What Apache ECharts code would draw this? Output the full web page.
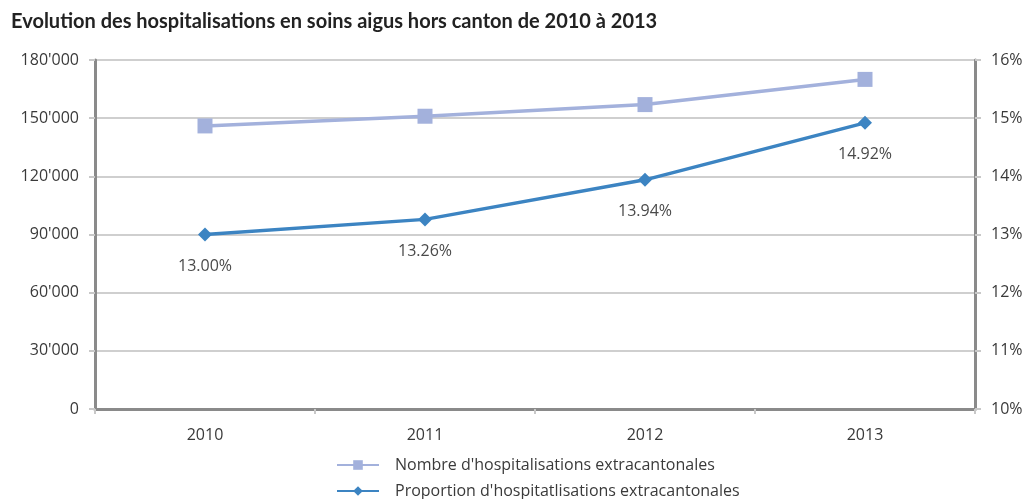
<!DOCTYPE html>
<html>
<head>
<meta charset="utf-8">
<script src="https://cdn.jsdelivr.net/npm/echarts@6/dist/echarts.min.js"></script>
<style>
  html, body { margin: 0; padding: 0; background: #fff; }
  #chart { width: 1030px; height: 499px; }
</style>
</head>
<body>
<div id="chart"></div>
<script>
// data
const years = ["2010", "2011", "2012", "2013"];
const nombre = [146000, 151000, 157000, 170000];
const proportion = [13.00, 13.26, 13.94, 14.92];
const seriesNames = ["Nombre d'hospitalisations extracantonales", "Proportion d'hospitatlisations extracantonales"];

const font = "'Open Sans', 'DejaVu Sans', sans-serif";
const textColor = "#3a3a3a";

function thousands(v) {
  return String(v).replace(/\B(?=(\d{3})+(?!\d))/g, "'");
}

// one legend per row, the second row is partly cut by the bottom edge like in the source
function legendRow(name, top) {
  return {
    left: 336,
    top: top,
    padding: 0,
    itemWidth: 42,
    itemHeight: 12,
    data: [name],
    textStyle: { fontFamily: font, fontSize: 16, color: textColor, padding: [0, 0, 0, 11] }
  };
}

const chart = echarts.init(document.getElementById("chart"));
const option = {
  animation: false,
  title: {
    text: "Evolution des hospitalisations en soins aigus hors canton de 2010 à 2013",
    left: 6,
    top: 7,
    textStyle: { fontFamily: "Lato, sans-serif", fontWeight: "bold", fontSize: 20, color: "#222" }
  },
  grid: { left: 95, right: 55, top: 60, bottom: 90, containLabel: false },
  legend: [legendRow(seriesNames[0], 457), legendRow(seriesNames[1], 483)],
  xAxis: {
    type: "category",
    data: years,
    boundaryGap: true,
    axisLine: { lineStyle: { color: "#8a8a8a", width: 3 } },
    axisTick: { show: true, length: 5, lineStyle: { color: "#c8c8c8", width: 2 } },
    axisLabel: { fontFamily: font, fontSize: 16, color: textColor, margin: 18 }
  },
  yAxis: [
    {
      type: "value",
      min: 0,
      max: 180000,
      interval: 30000,
      axisLine: { show: true, lineStyle: { color: "#8a8a8a", width: 3 } },
      axisTick: { show: true, length: 6, lineStyle: { color: "#c8c8c8", width: 2 } },
      splitLine: { lineStyle: { color: "#cfcfcf", width: 2 } },
      axisLabel: { fontFamily: font, fontSize: 16, color: textColor, margin: 16, formatter: thousands }
    },
    {
      type: "value",
      min: 10,
      max: 16,
      interval: 1,
      position: "right",
      axisLine: { show: true, lineStyle: { color: "#8a8a8a", width: 3 } },
      axisTick: { show: true, length: 6, lineStyle: { color: "#c8c8c8", width: 2 } },
      splitLine: { show: false },
      axisLabel: { fontFamily: font, fontSize: 16, color: textColor, margin: 16, formatter: "{value}%" }
    }
  ],
  series: [
    {
      name: seriesNames[0],
      type: "line",
      yAxisIndex: 0,
      data: nombre,
      symbol: "rect",
      symbolSize: 15,
      lineStyle: { color: "#a3b1dc", width: 3.5 },
      itemStyle: { color: "#a3b1dc" }
    },
    {
      name: seriesNames[1],
      type: "line",
      yAxisIndex: 1,
      data: proportion,
      symbol: "diamond",
      symbolSize: 14,
      lineStyle: { color: "#3c84c2", width: 3.5 },
      itemStyle: { color: "#3c84c2" },
      label: {
        show: true,
        position: "bottom",
        distance: 17,
        fontFamily: font,
        fontSize: 16,
        color: "#4a4a4a",
        formatter: p => p.value.toFixed(2) + "%"
      }
    }
  ]
};
chart.setOption(option);
</script>
</body>
</html>
